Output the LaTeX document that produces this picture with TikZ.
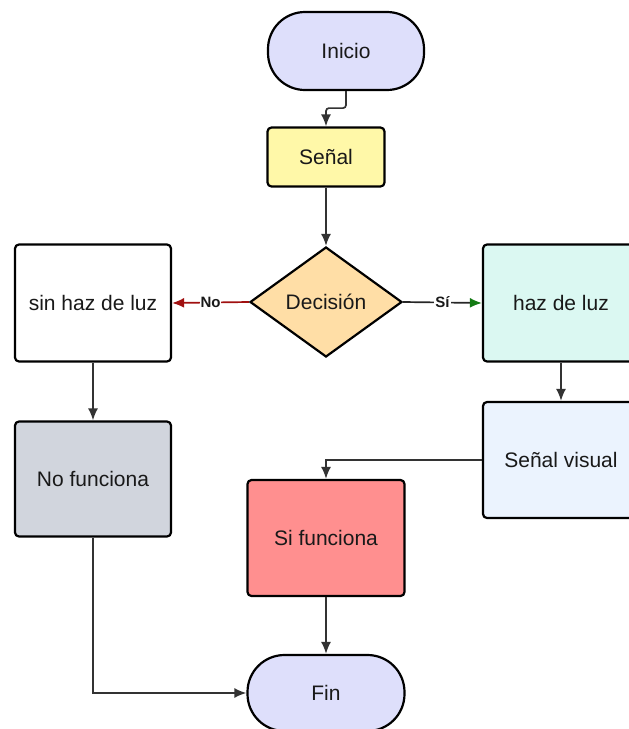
\documentclass[tikz,border=0pt]{standalone}
\usepackage{fontspec}
\setmainfont{Liberation Sans}
\usetikzlibrary{shapes.geometric,arrows.meta}

\definecolor{lavanda}{HTML}{DEDFFB}
\definecolor{amarillo}{HTML}{FFF8A8}
\definecolor{melocoton}{HTML}{FFDEA6}
\definecolor{menta}{HTML}{DBF8F2}
\definecolor{celeste}{HTML}{EBF3FE}
\definecolor{gris}{HTML}{D1D5DD}
\definecolor{rojo}{HTML}{FF8F8F}
\definecolor{rojono}{HTML}{A01010}
\definecolor{verdesi}{HTML}{137A13}

\begin{document}
\begin{tikzpicture}[x=1pt,y=-1pt,
    every node/.style={font=\fontsize{21}{25}\selectfont, text=black!90},
    caja/.style={draw, line width=2.2pt, rounded corners=4pt, inner sep=0pt},
    terminal/.style={caja, rounded corners=37pt},
    decide/.style={draw, diamond, line width=2.2pt, inner sep=0pt, fill=melocoton},
    flecha/.style={line width=1.7pt, draw=black!80, -{Latex[length=12pt,width=10pt]}},
    etiqueta/.style={font=\bfseries\fontsize{15}{17}\selectfont, fill=white, inner sep=1pt}]
\clip (0,0) rectangle (629,729);
\useasboundingbox (0,0) rectangle (629,729);

% nodos
\node[terminal, fill=lavanda, minimum width=156pt, minimum height=78pt] (inicio) at (346,51) {Inicio};
\node[caja, fill=amarillo, minimum width=117pt, minimum height=59pt] (senal) at (326,157) {Señal};
\node[decide, minimum width=152pt, minimum height=110pt] (decision) at (326,302) {Decisión};
\node[caja, fill=white, minimum width=156pt, minimum height=117pt] (sinhaz) at (93,303) {sin haz de luz};
\node[caja, fill=menta, minimum width=156pt, minimum height=117pt] (haz) at (561,303) {haz de luz};
\node[caja, fill=celeste, minimum width=156pt, minimum height=116pt] (visual) at (561,460) {Señal visual};
\node[caja, fill=gris, minimum width=156pt, minimum height=115pt] (nofunc) at (93,479) {No funciona};
\node[caja, fill=rojo, minimum width=157pt, minimum height=116pt] (sifunc) at (326,538) {Si funciona};
\node[terminal, fill=lavanda, minimum width=157pt, minimum height=76pt] (fin) at (326,693) {Fin};

% conectores
\draw[flecha, rounded corners=3pt] (inicio.south) -- ++(0,17) -| (senal.north);
\draw[flecha] (senal.south) -- (decision.north);
\draw[line width=1.7pt, draw=rojono, -{Latex[length=12pt,width=10pt,color=rojono]}]
    (decision.west) -- node[etiqueta] {No} (sinhaz.east);
\draw[line width=1.7pt, draw=black!85, -{Latex[length=12pt,width=10pt,color=verdesi]}]
    (decision.east) -- node[etiqueta] {Sí} (haz.west);
\draw[flecha] (haz.south) -- (visual.north);
\draw[flecha] (visual.west) -| (sifunc.north);
\draw[flecha] (sifunc.south) -- (fin.north);
\draw[flecha] (sinhaz.south) -- (nofunc.north);
\draw[flecha] (nofunc.south) |- (fin.west);
\end{tikzpicture}
\end{document}
